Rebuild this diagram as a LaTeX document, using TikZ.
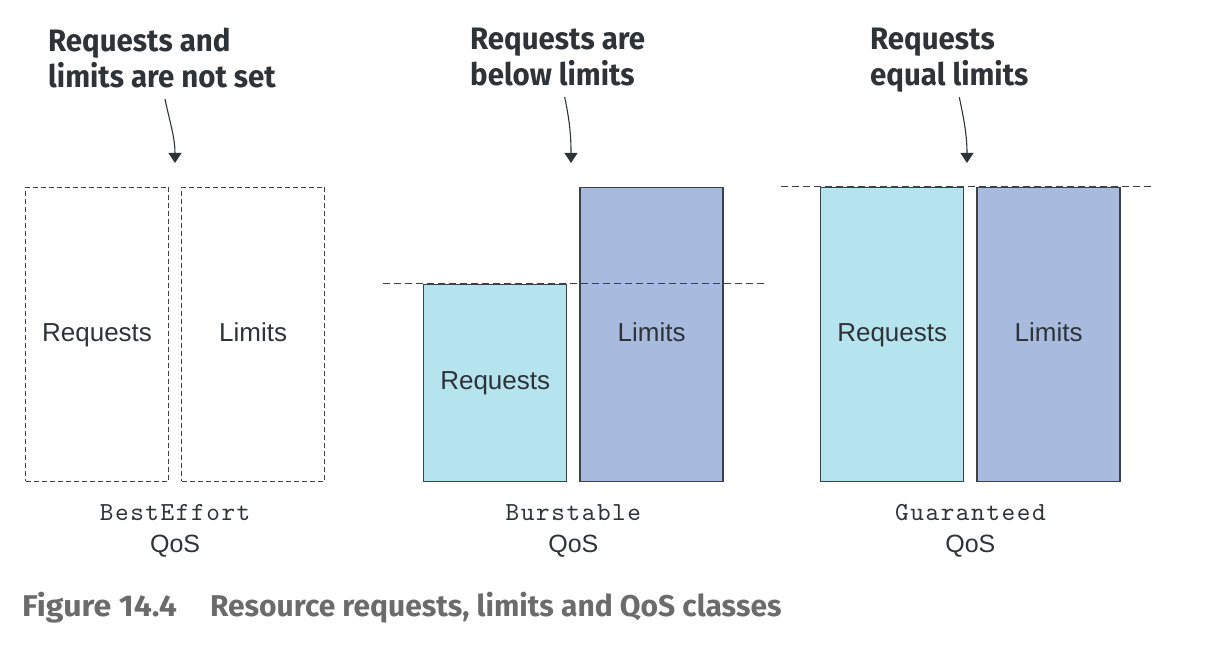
\documentclass[tikz,border=0pt]{standalone}
\usepackage{fontspec}
\setmainfont{Liberation Sans}
\newfontfamily\notefont[FakeStretch=0.95]{Fira Sans}
\newfontfamily\capfont{Fira Sans}
\newfontfamily\codefont{lmmono10-regular.otf}[LetterSpace=6]
\usetikzlibrary{arrows.meta}
\usetikzlibrary{positioning}
\usetikzlibrary{calc}
\newcommand{\qosname}[1]{{\codefont\fontsize{26}{32}\selectfont #1}}
\tikzset{box/.style = {draw=medge, line width=1.4pt, minimum width=143pt, inner sep=0pt,
                       text height=19pt, text depth=5pt,
                       text=mtext, font=\fontsize{26}{30}\selectfont},
         emptybox/.style = {box, dash pattern=on 5pt off 3pt, line width=1.1pt},
         reqbox/.style = {box, fill=mreq},
         limbox/.style = {box, fill=mlim},
         level/.style = {draw=medge, dash pattern=on 7pt off 4pt, line width=1.1pt},
         note/.style = {align=left, text=mtext, anchor=north west, inner sep=0pt,
                        font=\notefont\bfseries\fontsize{31}{36}\selectfont},
         qos/.style = {align=center, text=mtext, font=\fontsize{25}{32}\selectfont},
         pointer/.style = {draw=mtext, line width=1.1pt, -{Triangle[width=13pt,length=10pt]}}}
\definecolor{mreq}{HTML}{B5E3EE}
\definecolor{mlim}{HTML}{A8BBDF}
\definecolor{medge}{HTML}{3C4146}
\definecolor{mtext}{HTML}{2E3338}
\definecolor{mcap}{HTML}{6B6B6B}

\begin{document}
\begin{tikzpicture}[x=1pt, y=-1pt]
    \useasboundingbox (0, 0) rectangle (1224, 666);
    % BestEffort
    \node [emptybox, minimum height=294pt, anchor=south west] (be-req) at (25, 482) {Requests};
    \node [emptybox, minimum height=294pt, anchor=south west] (be-lim) at ([xshift=12pt]be-req.south east) {Limits};
    % Burstable
    \node [reqbox, minimum height=197pt, anchor=south west] (bu-req) at (423, 482) {Requests};
    \node [limbox, minimum height=294pt, anchor=south west] (bu-lim) at ([xshift=12pt]bu-req.south east) {Limits};
    \draw [level] ([xshift=-40pt]bu-req.north west) -- ([xshift=41pt]bu-lim.east |- bu-req.north);
    % Guaranteed
    \node [reqbox, minimum height=294pt, anchor=south west] (gu-req) at (820, 482) {Requests};
    \node [limbox, minimum height=294pt, anchor=south west] (gu-lim) at ([xshift=12pt]gu-req.south east) {Limits};
    \draw [level] ([xshift=-39pt]gu-req.north west) -- ([xshift=34pt]gu-lim.north east);
    % class names
    \node [qos] (be-lbl) at ($(be-req.south)!0.5!(be-lim.south) + (0, 49)$) {\qosname{BestEffort}\\{\rmfamily QoS}};
    \node [qos] (bu-lbl) at ($(bu-req.south)!0.5!(bu-lim.south) + (0, 49)$) {\qosname{Burstable}\\{\rmfamily QoS}};
    \node [qos] (gu-lbl) at ($(gu-req.south)!0.5!(gu-lim.south) + (0, 49)$) {\qosname{Guaranteed}\\{\rmfamily QoS}};
    % notes
    \node [note] (note-be) at (48, 27.5) {Requests and\\limits are not set};
    \node [note] (note-bu) at (470, 27.5) {Requests are\\below limits};
    \node [note] (note-gu) at (870, 27.5) {Requests\\equal limits};
    \coordinate (tip-be) at (175, 163);
    \coordinate (tip-bu) at (571, 163);
    \coordinate (tip-gu) at (967, 163);
    \draw [pointer] ([xshift=3pt, yshift=-11pt]note-be.south) to [out=-78, in=90] (tip-be);
    \draw [pointer] ([xshift=7pt, yshift=-11pt]note-bu.south) to [out=-78, in=90] (tip-bu);
    \draw [pointer] ([xshift=10pt, yshift=-5pt]note-gu.south) to [out=-78, in=90] (tip-gu);
    % caption
    \node [anchor=base west, inner sep=0pt, text=mcap, font=\capfont\bfseries\fontsize{30}{34}\selectfont] (caption) at (22, 616)
      {{\addfontfeature{FakeStretch=1.07}Figure 14.4}\hspace{33pt}Resource requests, limits and QoS classes};
\end{tikzpicture}
\end{document}
